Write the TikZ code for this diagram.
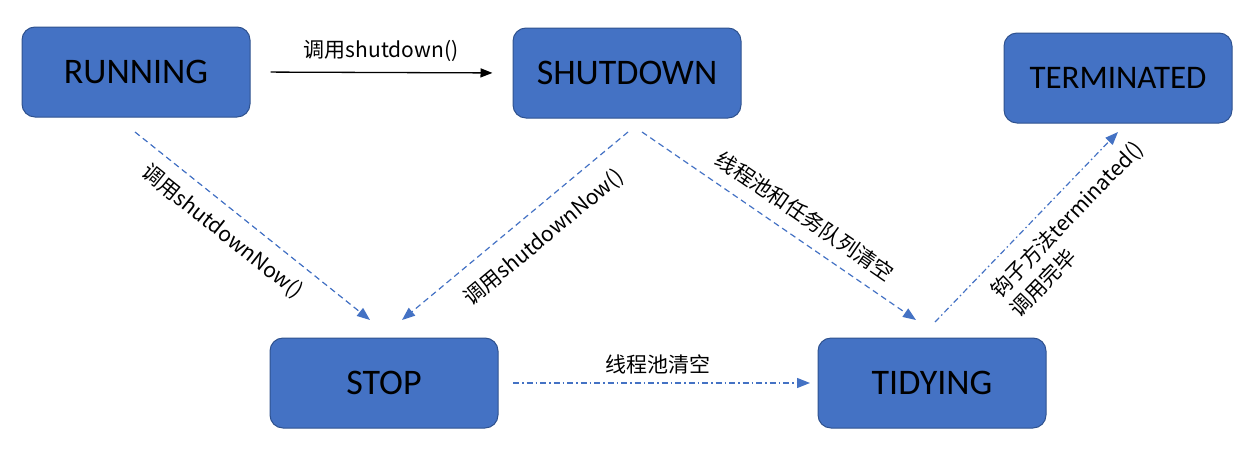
\documentclass[tikz,border=0pt]{standalone}
\usepackage{fontspec}
\newfontfamily\statefont{Carlito}
\newfontfamily\labfont{Noto Sans CJK SC}
\usetikzlibrary{arrows.meta}
\definecolor{boxblue}{HTML}{4472C4}
\definecolor{boxedge}{HTML}{2F528F}
\definecolor{lineblue}{HTML}{4472C4}
\tikzset{
  statebox/.style={rectangle, rounded corners=13pt, fill=boxblue, draw=boxedge, line width=1pt,
    minimum width=228pt, minimum height=90pt, inner sep=0pt,
    font=\statefont\fontsize{36}{40}\selectfont, text=black},
  lab/.style={inner sep=0pt, font=\labfont\fontsize{21}{27}\selectfont, text=black},
  solidarrow/.style={black, line width=1.3pt, -{Triangle[length=12pt,width=9pt]}},
  dasharrow/.style={lineblue, line width=1.2pt, dash pattern=on 6pt off 4pt, -{Triangle[length=13pt,width=10pt]}},
  dotarrow/.style={lineblue, line width=1.2pt, dash pattern=on 6pt off 3pt on 1.5pt off 3pt, -{Triangle[length=13pt,width=10pt]}}
}
\begin{document}
\begin{tikzpicture}[x=1pt,y=-1pt]
\useasboundingbox (0,0) rectangle (1252,450);
% states
\node[statebox] (run)  at (136,72)  {RUNNING};
\node[statebox] (shut) at (627,73)  {SHUTDOWN};
\node[statebox, font=\statefont\fontsize{33}{38}\selectfont] (term) at (1118,78) {TERMINATED};
\node[statebox] (stop) at (384,383) {STOP};
\node[statebox] (tidy) at (932,383) {TIDYING};
% connector ends
\coordinate (e2s) at (135,132); \coordinate (e2t) at (370,320);
\coordinate (e3s) at (628,132); \coordinate (e3t) at (402,320);
\coordinate (e4s) at (642,132); \coordinate (e4t) at (916,320);
\coordinate (e5s) at (935,322); \coordinate (e5t) at (1118,132);
\coordinate (e6s) at (513,383); \coordinate (e6t) at (810,383);
% connectors
\draw[solidarrow, shorten <=20pt, shorten >=20pt] (run.east) -- (shut.west);
\draw[dasharrow] (e2s) -- (e2t);
\draw[dasharrow] (e3s) -- (e3t);
\draw[dasharrow] (e4s) -- (e4t);
\draw[dotarrow] (e5s) -- (e5t);
\draw[dotarrow] (e6s) -- (e6t);
% labels
\node[lab] (l1) at (381,51) {调用shutdown()};
\node[lab, rotate=-38.66] (l2) at (222,232) {调用shutdownNow()};
\node[lab, rotate=39.76] (l3) at (544,238) {调用shutdownNow()};
\node[lab, rotate=-34.45] (l4) at (805,216) {线程池和任务队列清空};
\node[lab, rotate=46.07, align=left] (l5) at (1076,229) {钩子方法terminated()\\调用完毕};
\node[lab] (l6) at (658,364) {线程池清空};
\end{tikzpicture}
\end{document}
